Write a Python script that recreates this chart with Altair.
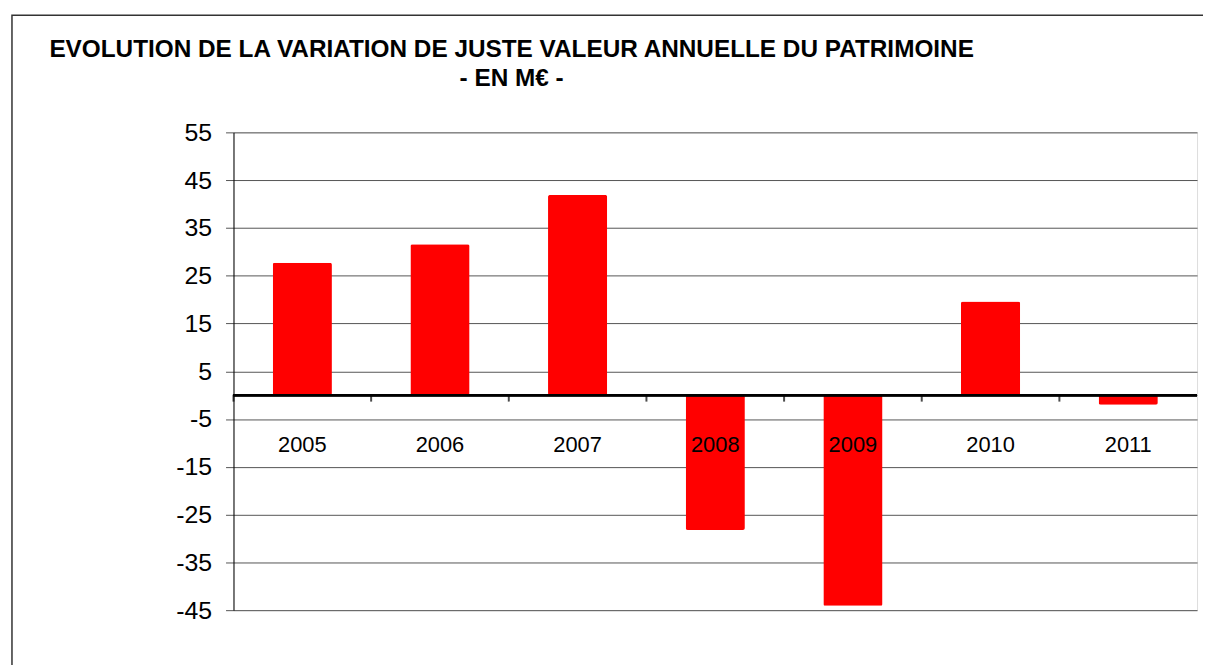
import altair as alt
import pandas as pd

years = ["2005", "2006", "2007", "2008", "2009", "2010", "2011"]
values = [27.7, 31.6, 41.9, -28.2, -44.1, 19.6, -2.0]
y_ticks = [-45, -35, -25, -15, -5, 5, 15, 25, 35, 45, 55]
title_lines = ["EVOLUTION DE LA VARIATION DE JUSTE VALEUR ANNUELLE DU PATRIMOINE", "- EN M€ -"]

df = pd.DataFrame({"year": years, "value": values})
frame_df = pd.DataFrame({"frame": [0]})

FONT = "Liberation Sans"

xscale = alt.Scale(paddingInner=0, paddingOuter=0)
yscale = alt.Scale(domain=[-45, 55], nice=False, zero=False)

yaxis = alt.Axis(
    values=y_ticks, title=None, grid=True, gridColor="#555555", gridWidth=1,
    domainColor="#000000", domainWidth=1, tickColor="#555555", tickSize=8,
    labelFont=FONT, labelFontSize=25, labelColor="#000000", labelPadding=14,
    labelExpr="'' + datum.value",
)

bars = alt.Chart(df).mark_bar(
    color="#FF0000", width=alt.RelativeBandSize(0.43), cornerRadius=2
).encode(
    x=alt.X("year:N", sort=years, scale=xscale, axis=alt.Axis(
        title=None, ticks=False, domain=False, labelAngle=0, offset=-217,
        labelFont=FONT, labelFontSize=22, labelColor="#000000", labelPadding=40,
        zindex=1,
    )),
    y=alt.Y("value:Q", scale=yscale, axis=yaxis),
)

zero_line = alt.Chart(df).mark_rule(color="#000000", strokeWidth=2).encode(
    y=alt.datum(0)
)

boundary_ticks = alt.Chart(df).mark_tick(
    orient="vertical", color="#000000", thickness=2, size=7, yOffset=3
).encode(
    x=alt.X("year:N", sort=years, bandPosition=0),
    y=alt.datum(0),
)

frame = alt.Chart(frame_df).mark_rect(
    fill=None, stroke="#333333", strokeWidth=1.5
).encode(
    x=alt.value(-223), x2=alt.value(1100), y=alt.value(-118), y2=alt.value(700)
)

chart = alt.layer(frame, bars, zero_line, boundary_ticks).properties(
    width=970, height=481,
    padding={"left": 227, "top": 123, "right": 6, "bottom": 53},
    autosize=alt.AutoSizeParams(type="none"),
    title=alt.TitleParams(
        text=title_lines, anchor="middle", frame="group", dx=-205, offset=-78,
        lineHeight=30, font=FONT, fontSize=24.5, fontWeight="bold", color="#000000",
    ),
).configure_view(stroke="#777777", strokeWidth=2).configure(background="white")

chart.save("out.html", embed_options={"renderer": "svg", "actions": False})
